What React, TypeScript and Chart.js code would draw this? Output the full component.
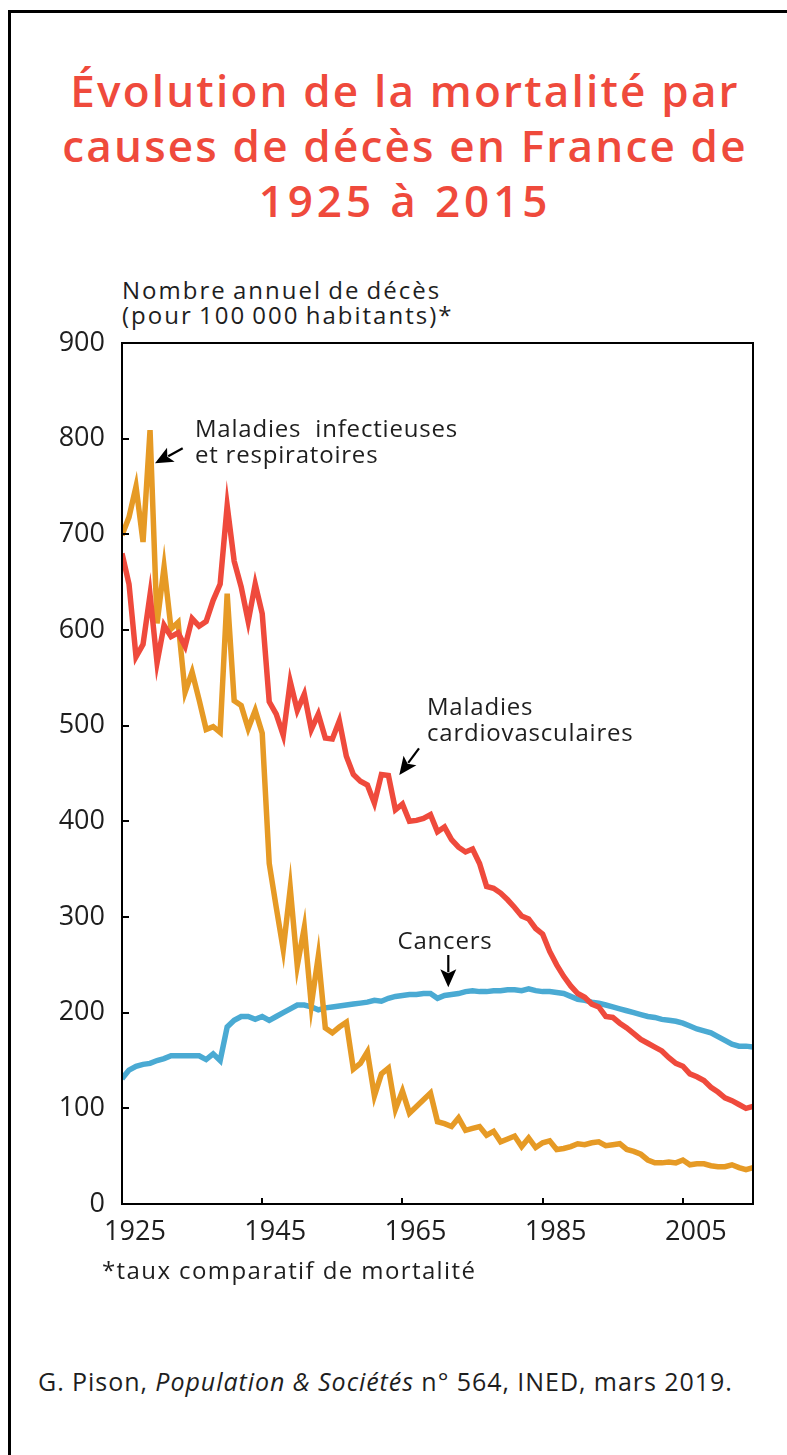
import React, { useEffect, useRef } from "react";
import { Chart, registerables } from "chart.js";

Chart.register(...registerables);

// ---------- DATA ----------
const YEARS = [
  1925, 1926, 1927, 1928, 1929, 1930, 1931, 1932, 1933, 1934,
  1935, 1936, 1937, 1938, 1939, 1940, 1941, 1942, 1943, 1944,
  1945, 1946, 1947, 1948, 1949, 1950, 1951, 1952, 1953, 1954,
  1955, 1956, 1957, 1958, 1959, 1960, 1961, 1962, 1963, 1964,
  1965, 1966, 1967, 1968, 1969, 1970, 1971, 1972, 1973, 1974,
  1975, 1976, 1977, 1978, 1979, 1980, 1981, 1982, 1983, 1984,
  1985, 1986, 1987, 1988, 1989, 1990, 1991, 1992, 1993, 1994,
  1995, 1996, 1997, 1998, 1999, 2000, 2001, 2002, 2003, 2004,
  2005, 2006, 2007, 2008, 2009, 2010, 2011, 2012, 2013, 2014,
  2015,
];

// Maladies cardiovasculaires
const CARDIO = [
  680, 648, 572, 585, 637, 566, 605, 593, 597, 583,
  612, 604, 609, 631, 648, 730, 672, 645, 609, 648,
  617, 525, 512, 490, 546, 516, 533, 496, 512, 487,
  486, 505, 468, 449, 442, 438, 419, 449, 448, 412,
  418, 400, 401, 403, 407, 389, 394, 381, 373, 368,
  371, 356, 332, 330, 325, 318, 310, 301, 298, 288,
  282, 264, 250, 238, 228, 220, 216, 209, 206, 196,
  195, 189, 184, 178, 172, 168, 164, 160, 153, 147,
  144, 136, 133, 129, 122, 117, 111, 108, 104, 100,
  102,
];

// Maladies infectieuses et respiratoires
const INFECT = [
  699, 718, 750, 692, 809, 607, 666, 601, 608, 535,
  556, 527, 496, 499, 493, 638, 526, 521, 497, 516,
  492, 356, 310, 266, 330, 249, 289, 208, 259, 184,
  179, 185, 190, 141, 147, 159, 113, 136, 142, 99,
  118, 95, 102, 109, 116, 86, 84, 81, 90, 77,
  79, 81, 72, 76, 65, 68, 71, 60, 69, 59,
  64, 66, 57, 58, 60, 63, 62, 64, 65, 61,
  62, 63, 57, 55, 52, 46, 43, 43, 44, 43,
  46, 41, 42, 42, 40, 39, 39, 41, 38, 36,
  38,
];

// Cancers
const CANCER = [
  131, 140, 144, 146, 147, 150, 152, 155, 155, 155,
  155, 155, 151, 157, 150, 185, 192, 196, 196, 193,
  196, 192, 196, 200, 204, 208, 208, 206, 203, 205,
  206, 207, 208, 209, 210, 211, 213, 212, 215, 217,
  218, 219, 219, 220, 220, 215, 218, 219, 220, 222,
  223, 222, 222, 223, 223, 224, 224, 223, 225, 223,
  222, 222, 221, 220, 217, 214, 213, 211, 210, 208,
  206, 204, 202, 200, 198, 196, 195, 193, 192, 191,
  189, 186, 183, 181, 179, 175, 171, 167, 165, 165,
  164,
];

const X_TICKS = [1925, 1945, 1965, 1985, 2005];
const X_MIN = 1925;
const X_MAX = 2015;
const Y_MIN = 0;
const Y_MAX = 900;
const Y_STEP = 100;

const TITLE_LINES = [
  "Évolution de la mortalité par",
  "causes de décès en France de",
  "1925 à 2015",
];
const TITLE_SPACING = ["2.2px", "2.2px", "3.9px"];
const Y_TITLE_LINES = ["Nombre annuel de décès", "(pour 100 000 habitants)*"];
const FOOTNOTE = "*taux comparatif de mortalité";

// annotation labels (anchored in data coordinates)
const ANNOT_TEXTS = [
  { lines: ["Maladies  infectieuses", "et respiratoires"], year: 1935.4, value: 801.4 },
  { lines: ["Maladies", "cardiovasculaires"], year: 1968.5, value: 511.1 },
  { lines: ["Cancers"], year: 1964.3, value: 266.2 },
];
const ANNOT_ARROWS = [
  { fromYear: 1933.66, fromValue: 789.9, toYear: 1929.71, toValue: 774.2 },
  { fromYear: 1967.36, fromValue: 476.3, toYear: 1964.55, toValue: 448.4 },
  { fromYear: 1971.54, fromValue: 260.3, toYear: 1971.54, toValue: 226.5 },
];

// ---------- STYLE ----------
const RED = "#ef4a3c";
const ORANGE = "#e69a25";
const BLUE = "#4aaad3";
const INK = "#1e1e1e";
const FONT = '"Open Sans", "Noto Sans", sans-serif';

function drawArrow(ctx: CanvasRenderingContext2D, x1: number, y1: number, x2: number, y2: number) {
  const ang = Math.atan2(y2 - y1, x2 - x1);
  const headLen = 18;
  const headW = 8;
  const bx = x2 - headLen * Math.cos(ang);
  const by = y2 - headLen * Math.sin(ang);
  ctx.beginPath();
  ctx.moveTo(x1, y1);
  ctx.lineTo(bx + 3 * Math.cos(ang), by + 3 * Math.sin(ang));
  ctx.lineWidth = 2.2;
  ctx.stroke();
  ctx.beginPath();
  ctx.moveTo(x2, y2);
  ctx.lineTo(bx + headW * Math.sin(ang), by - headW * Math.cos(ang));
  ctx.lineTo(bx + 4 * Math.cos(ang), by + 4 * Math.sin(ang));
  ctx.lineTo(bx - headW * Math.sin(ang), by + headW * Math.cos(ang));
  ctx.closePath();
  ctx.fill();
}

const framePlugin = {
  id: "frameAndNotes",
  afterDatasetsDraw(chart: any) {
    const { ctx, chartArea: a, scales } = chart;
    const xs = scales.x;
    const ys = scales.y;
    ctx.save();
    ctx.strokeStyle = "#000";
    ctx.fillStyle = "#000";
    ctx.lineWidth = 2;
    // inward tick marks
    for (let v = Y_MIN + Y_STEP; v < Y_MAX; v += Y_STEP) {
      const py = Math.round(ys.getPixelForValue(v));
      ctx.beginPath();
      ctx.moveTo(a.left, py);
      ctx.lineTo(a.left + 7, py);
      ctx.stroke();
    }
    X_TICKS.forEach((t) => {
      if (t === X_MIN) return;
      const px = Math.round(xs.getPixelForValue(t));
      ctx.beginPath();
      ctx.moveTo(px, a.bottom);
      ctx.lineTo(px, a.bottom - 6);
      ctx.stroke();
    });
    // plot box
    ctx.strokeRect(a.left, a.top, a.right - a.left, a.bottom - a.top);

    // annotation texts
    ctx.fillStyle = INK;
    ctx.font = `24px ${FONT}`;
    (ctx as any).letterSpacing = "0.8px";
    ctx.textBaseline = "alphabetic";
    ctx.textAlign = "left";
    ANNOT_TEXTS.forEach((t) => {
      const px = xs.getPixelForValue(t.year);
      const py = ys.getPixelForValue(t.value);
      t.lines.forEach((ln, i) => ctx.fillText(ln, px, py + i * 26));
    });
    (ctx as any).letterSpacing = "0px";
    // arrows
    ctx.fillStyle = "#000";
    ANNOT_ARROWS.forEach((r) => {
      drawArrow(
        ctx,
        xs.getPixelForValue(r.fromYear),
        ys.getPixelForValue(r.fromValue),
        xs.getPixelForValue(r.toYear),
        ys.getPixelForValue(r.toValue)
      );
    });
    ctx.restore();
  },
};

function MortalityChart() {
  const ref = useRef<HTMLCanvasElement | null>(null);
  useEffect(() => {
    if (!ref.current) return;
    const toPts = (vals: number[]) => YEARS.map((yr, i) => ({ x: yr, y: vals[i] }));
    const chart = new Chart(ref.current, {
      type: "line",
      data: {
        datasets: [
          { label: "Maladies cardiovasculaires", data: toPts(CARDIO), borderColor: RED, borderWidth: 5.5, pointRadius: 0, tension: 0 },
          { label: "Maladies infectieuses et respiratoires", data: toPts(INFECT), borderColor: ORANGE, borderWidth: 5.5, pointRadius: 0, tension: 0 },
          { label: "Cancers", data: toPts(CANCER), borderColor: BLUE, borderWidth: 5.5, pointRadius: 0, tension: 0 },
        ],
      },
      options: {
        animation: false,
        responsive: false,
        events: [],
        layout: { padding: { top: 43, right: 34, left: 0, bottom: 0 } },
        plugins: { legend: { display: false }, tooltip: { enabled: false }, title: { display: false } },
        scales: {
          x: {
            type: "linear",
            min: X_MIN,
            max: X_MAX,
            grid: { display: false, drawTicks: false },
            border: { display: false },
            afterBuildTicks: (s: any) => {
              s.ticks = X_TICKS.map((v) => ({ value: v }));
            },
            afterFit: (s: any) => {
              s.height = 96;
            },
            ticks: {
              autoSkip: false,
              maxRotation: 0,
              padding: 12,
              labelOffset: 13,
              color: INK,
              font: { family: FONT, size: 27 },
              callback: (v: any) => String(v),
            },
          },
          y: {
            min: Y_MIN,
            max: Y_MAX,
            grid: { display: false, drawTicks: false },
            border: { display: false },
            afterFit: (s: any) => {
              s.width = 122;
            },
            ticks: {
              stepSize: Y_STEP,
              padding: 17,
              color: INK,
              font: { family: FONT, size: 27 },
              callback: (v: any) => String(v),
            },
          },
        },
      },
      plugins: [framePlugin],
    });
    return () => chart.destroy();
  }, []);
  return (
    <canvas
      ref={ref}
      width={787}
      height={1000}
      style={{ position: "absolute", left: 0, top: 300, width: 787, height: 1000 }}
    />
  );
}

export default function App() {
  useEffect(() => {
    document.body.style.overflow = "hidden";
  }, []);
  return (
    <div>
      <div
        style={{
          position: "absolute",
          left: 8,
          top: 10,
          width: 779,
          height: 1445,
          boxSizing: "border-box",
          borderLeft: "3px solid #000",
          borderTop: "3px solid #000",
        }}
      />
      <div
        style={{
          position: "absolute",
          left: 0,
          top: 63,
          width: 810,
          textAlign: "center",
          color: RED,
          fontFamily: FONT,
          fontWeight: 600,
          fontSize: 44,
          lineHeight: "55px",
          whiteSpace: "nowrap",
        }}
      >
        {TITLE_LINES.map((l, i) => (
          <div key={i} style={{ letterSpacing: TITLE_SPACING[i] }}>
            {l}
          </div>
        ))}
      </div>
      <div
        style={{
          position: "absolute",
          left: 122,
          top: 277,
          color: INK,
          fontFamily: FONT,
          fontSize: 24,
          lineHeight: "25px",
          letterSpacing: "2px",
          wordSpacing: "-2px",
          whiteSpace: "nowrap",
        }}
      >
        {Y_TITLE_LINES.map((l, i) => (
          <div key={i}>{l}</div>
        ))}
      </div>
      <MortalityChart />
      <div
        style={{
          position: "absolute",
          left: 102,
          top: 1255,
          color: INK,
          fontFamily: FONT,
          fontSize: 24,
          lineHeight: "30px",
          letterSpacing: "1.4px",
          whiteSpace: "nowrap",
        }}
      >
        {FOOTNOTE}
      </div>
      <div
        style={{
          position: "absolute",
          left: 38,
          top: 1366,
          color: INK,
          fontFamily: FONT,
          fontSize: 25,
          lineHeight: "30px",
          letterSpacing: "0.95px",
          whiteSpace: "nowrap",
        }}
      >
        G. Pison, <i>Population &amp; Sociétés</i> n° 564, INED, mars 2019.
      </div>
    </div>
  );
}
